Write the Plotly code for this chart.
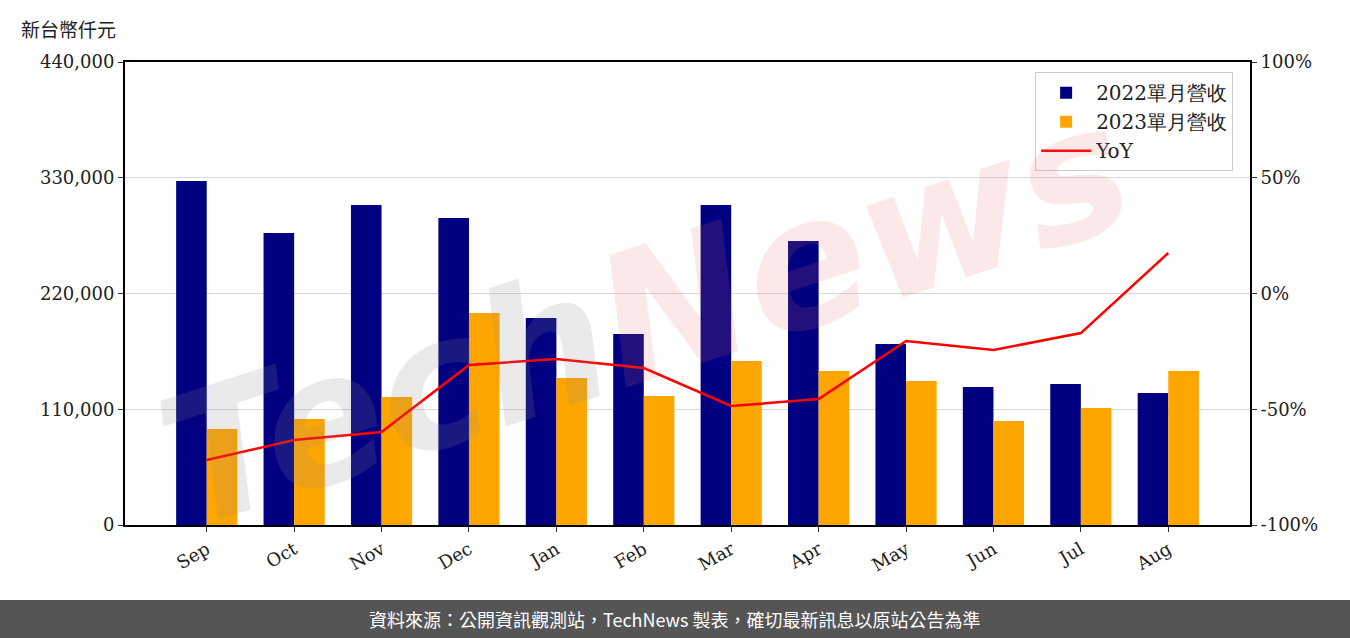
import plotly.graph_objects as go

months = ["Sep", "Oct", "Nov", "Dec", "Jan", "Feb", "Mar", "Apr", "May", "Jun", "Jul", "Aug"]
rev_2022 = [327000, 277500, 304000, 291700, 196700, 181500, 304000, 269900, 172000, 131100, 134000, 125400]
rev_2023 = [91200, 100700, 121600, 201500, 139700, 122600, 155900, 146300, 136800, 98800, 111200, 146300]
yoy = [-71.9, -63.3, -59.8, -30.9, -28.3, -32.2, -48.6, -45.6, -20.5, -24.4, -17.1, 17.5]
left_ticks = [0, 110000, 220000, 330000, 440000]
right_ticks = [-100, -50, 0, 50, 100]
right_labels = ["-100%", "-50%", "0%", "50%", "100%"]

SERIF = "DejaVu Serif"
x = list(range(len(months)))

fig = go.Figure()
fig.add_trace(go.Bar(x=x, y=rev_2022, name="2022單月營收", marker_color="#000080",
                     width=0.35, offset=-0.35, marker_line_width=0))
fig.add_trace(go.Bar(x=x, y=rev_2023, name="2023單月營收", marker_color="#FFA500",
                     width=0.35, offset=0, marker_line_width=0))
fig.add_trace(go.Scatter(x=x, y=yoy, name="YoY", mode="lines",
                         line=dict(color="#FF0000", width=2.5), yaxis="y2"))

fig.update_layout(
    width=1350, height=638,
    margin=dict(l=125, r=100, t=62, b=113),
    plot_bgcolor="rgba(0,0,0,0)", paper_bgcolor="white",
    font=dict(family=SERIF, size=17, color="#222"),
    barmode="overlay",
    showlegend=True,
    legend=dict(x=0.985, y=0.978, xanchor="right", yanchor="top", itemwidth=50,
                bgcolor="rgba(255,255,255,0.85)", bordercolor="#cccccc", borderwidth=1,
                font=dict(family=SERIF, size=20, color="#222"), tracegroupgap=2),
    xaxis=dict(range=[-0.935, 11.935], tickvals=x, ticktext=months, tickangle=-30,
               showgrid=False, zeroline=False, showline=True, linecolor="black", linewidth=2,
               mirror=True, ticks="outside", ticklen=5, tickcolor="#333",
               tickfont=dict(family=SERIF, size=18)),
    yaxis=dict(range=[0, 440000], tickvals=left_ticks, tickformat=",d",
               showgrid=True, gridcolor="#d8d8d8", gridwidth=1, zeroline=False,
               showline=True, linecolor="black", linewidth=2, ticks="outside",
               ticklen=5, tickcolor="#333", tickfont=dict(family=SERIF, size=18)),
    yaxis2=dict(range=[-100, 100], tickvals=right_ticks, ticktext=right_labels,
                overlaying="y", side="right", showgrid=False, zeroline=False,
                showline=True, linecolor="black", linewidth=2, ticks="outside",
                ticklen=5, tickcolor="#333", tickfont=dict(family=SERIF, size=18)),
)

# watermark
fig.add_annotation(
    text="<span style='color:rgba(140,140,140,0.18)'>Tech</span>"
         "<span style='color:rgba(225,110,110,0.15)'>News</span>",
    xref="paper", yref="paper", x=(645 - 125) / 1125, y=(525 - 315) / 463,
    showarrow=False, textangle=-18,
    font=dict(family="DejaVu Sans", size=180, style="italic", weight="bold"))

# unit label
fig.add_annotation(text="新台幣仟元", xref="paper", yref="paper", x=-106/1125, y=(525-28)/463,
                   xanchor="left", yanchor="middle", showarrow=False,
                   font=dict(family="Noto Sans CJK TC", size=19, color="#222"))

# bottom banner
fig.add_shape(type="rect", xref="paper", yref="paper",
              x0=-125/1125, x1=1225/1125, y0=-113/463, y1=-75/463,
              fillcolor="#555555", line_width=0, layer="above")
fig.add_annotation(text="資料來源：公開資訊觀測站，TechNews 製表，確切最新訊息以原站公告為準",
                   xref="paper", yref="paper", x=(675-125)/1125, y=-94/463,
                   xanchor="center", yanchor="middle", showarrow=False,
                   font=dict(family="Noto Sans CJK TC", size=18, color="white"))

fig.write_html("out.html", config={"displayModeBar": False},
               post_script="document.body.style.margin='0px';document.body.style.overflow='hidden';")
